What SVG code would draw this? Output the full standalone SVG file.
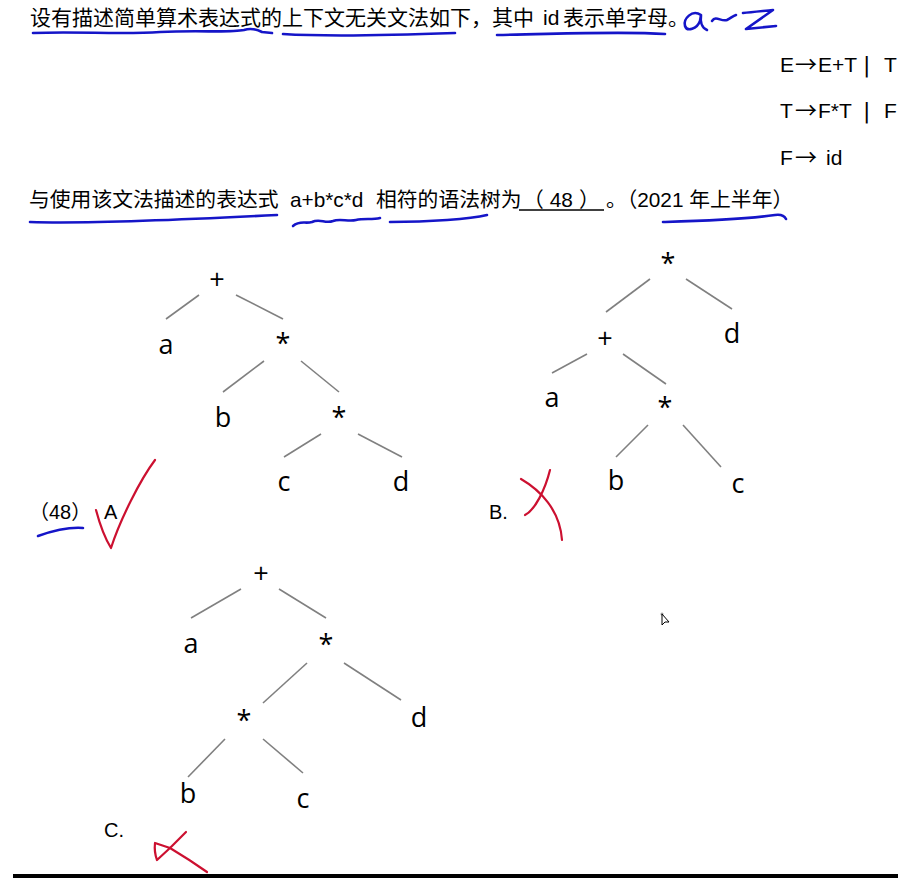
<svg xmlns="http://www.w3.org/2000/svg" width="901" height="880" viewBox="0 0 901 880">
<defs>
<style>
.cn{font-family:"Liberation Sans","Noto Sans CJK SC",sans-serif;font-size:21px;fill:#000}
.cn2{font-family:"Liberation Sans","Noto Sans CJK SC",sans-serif;font-size:20.8px;fill:#000}
.gr{font-family:"Liberation Sans",Arial,sans-serif;font-size:21px;fill:#000}
.ar{font-family:"Noto Sans CJK SC",sans-serif;font-size:22px}
.bar{font-family:"DejaVu Sans",sans-serif;font-size:22px}
.nd{font-family:"Open Sans","Noto Sans",sans-serif;font-size:27px;fill:#000;text-anchor:middle}
.lb{font-family:"Liberation Sans","Noto Sans CJK SC",sans-serif;font-size:20px;fill:#000}
.ed{stroke:#808080;stroke-width:1.6;fill:none}
.bl{stroke:#1515c8;stroke-width:2.6;fill:none;stroke-linecap:round;stroke-linejoin:round}
.rd{stroke:#cc1030;stroke-width:2.2;fill:none;stroke-linecap:round;stroke-linejoin:round}
</style>
</defs>
<rect width="901" height="880" fill="#fff"/>

<g id="question">
<text class="cn" y="25"><tspan x="30">设有描述简单算术表达式的上下文无关文法如下，其中</tspan><tspan x="543">id</tspan><tspan x="563">表示单字母。</tspan></text>
<text class="gr" y="72"><tspan x="780">E</tspan><tspan class="ar" x="795">→</tspan><tspan x="818">E+T</tspan><tspan class="bar" x="863">|</tspan><tspan x="884">T</tspan></text>
<text class="gr" y="118"><tspan x="780">T</tspan><tspan class="ar" x="795">→</tspan><tspan x="818">F*T</tspan><tspan class="bar" x="863">|</tspan><tspan x="884">F</tspan></text>
<text class="gr" y="165"><tspan x="780">F</tspan><tspan class="ar" x="795">→</tspan><tspan x="826">id</tspan></text>
<text class="cn2" y="207"><tspan x="29">与使用该文法描述的表达式</tspan><tspan x="290">a+b*c*d</tspan><tspan x="376">相符的语法树为</tspan></text>
<text class="cn2" x="523" y="207">（<tspan dx="6">48</tspan><tspan dx="6">）</tspan></text>
<line x1="519" y1="210" x2="604" y2="210" stroke="#000" stroke-width="1.5"/>
<text class="cn2" x="606" y="207">。（2021 年上半年）</text>
</g>

<g id="labels">
<text class="lb" x="29" y="519">（48）</text>
<text class="lb" x="104" y="519">A</text>
<text class="lb" x="489" y="519" font-size="23">B.</text>
<text class="lb" x="104" y="837" font-size="22">C.</text>
</g>

<g id="connectors">
<line class="ed" x1="199" y1="295" x2="166" y2="319"/>
<line class="ed" x1="236" y1="295" x2="283" y2="319"/>
<line class="ed" x1="264" y1="361" x2="223" y2="392"/>
<line class="ed" x1="301" y1="361" x2="339" y2="392"/>
<line class="ed" x1="321" y1="434" x2="284" y2="457"/>
<line class="ed" x1="358" y1="434" x2="402" y2="457"/>

<line class="ed" x1="650" y1="279" x2="606" y2="312"/>
<line class="ed" x1="686" y1="279" x2="732" y2="309"/>
<line class="ed" x1="587" y1="354" x2="552" y2="373"/>
<line class="ed" x1="623" y1="354" x2="666" y2="384"/>
<line class="ed" x1="648" y1="425" x2="616" y2="457"/>
<line class="ed" x1="683" y1="425" x2="721" y2="467"/>

<line class="ed" x1="241" y1="589" x2="191" y2="618"/>
<line class="ed" x1="279" y1="589" x2="326" y2="618"/>
<line class="ed" x1="307" y1="663" x2="263" y2="703"/>
<line class="ed" x1="344" y1="663" x2="401" y2="700"/>
<line class="ed" x1="225" y1="739" x2="188" y2="777"/>
<line class="ed" x1="263" y1="739" x2="303" y2="773"/>
</g>

<g id="treeA">
<text id="A-plus" class="nd" x="217" y="289">+</text>
<text id="A-a" class="nd" x="166" y="354">a</text>
<text id="A-mul1" class="nd" x="283" y="353">*</text>
<text id="A-b" class="nd" x="223" y="427">b</text>
<text id="A-mul2" class="nd" x="339" y="427">*</text>
<text id="A-c" class="nd" x="284" y="491">c</text>
<text id="A-d" class="nd" x="401" y="491">d</text>
</g>

<g id="treeB">
<text id="B-mul1" class="nd" x="668" y="273">*</text>
<text id="B-plus" class="nd" x="605" y="348">+</text>
<text id="B-d" class="nd" x="732" y="343">d</text>
<text id="B-a" class="nd" x="552" y="407">a</text>
<text id="B-mul2" class="nd" x="665" y="417">*</text>
<text id="B-b" class="nd" x="616" y="490">b</text>
<text id="B-c" class="nd" x="738" y="493">c</text>
</g>

<g id="treeC">
<text id="C-plus" class="nd" x="261" y="583">+</text>
<text id="C-a" class="nd" x="191" y="653">a</text>
<text id="C-mul1" class="nd" x="326" y="654">*</text>
<text id="C-mul2" class="nd" x="244" y="730">*</text>
<text id="C-d" class="nd" x="419" y="727">d</text>
<text id="C-b" class="nd" x="188" y="803">b</text>
<text id="C-c" class="nd" x="303" y="808">c</text>
</g>

<g id="annotations">
<path class="bl" d="M33,33 C80,31 120,35 160,32 C200,30 230,33 244,30 C250,28 256,29 262,32 L272,33"/>
<path class="bl" d="M283,34 C330,37 400,35 455,33"/>
<path class="bl" d="M497,35 C560,34 620,31 665,34"/>
<path class="bl" d="M701,15 C692,9 683,19 685,26 C687,32 697,29 700,21 L701,15 C700,22 702,28 707,30"/>
<path class="bl" d="M712,21 C716,15 721,22 727,20 C731,18 733,16 736,15"/>
<path class="bl" d="M743,13 C752,12 763,11 773,10 L746,29 C756,28 766,27 776,26"/>
<path class="bl" d="M30,222 C90,224 180,220 277,215"/>
<path class="bl" d="M293,226 C300,220 305,224 312,222 C320,218 325,224 333,221 C340,218 348,222 356,220 C364,218 372,220 380,218"/>
<path class="bl" d="M390,222 C430,222 470,219 487,215"/>
<path class="bl" d="M663,222 C700,221 740,220 775,215 C782,214 785,217 786,219"/>
<path class="bl" d="M38,536 C55,530 70,527 83,528"/>
<path class="rd" d="M96,510 C100,525 106,540 111,548 C120,520 140,480 155,460"/>
<path class="rd" d="M521,479 C540,490 560,510 562,540"/>
<path class="rd" d="M550,470 C545,490 535,510 525,515"/>
<path class="rd" d="M186,832 L170,848 L155,843 Q154,852 157,860 L170,848 Q190,860 207,872"/>
</g>

<g id="cursor">
<circle cx="662" cy="614" r="1.5" fill="#999"/>
<polygon points="662,614 662,625 665,622 669,622" fill="#fff" stroke="#000" stroke-width="1"/>
</g>

<rect x="13" y="874" width="885" height="4" fill="#000"/>
</svg>
